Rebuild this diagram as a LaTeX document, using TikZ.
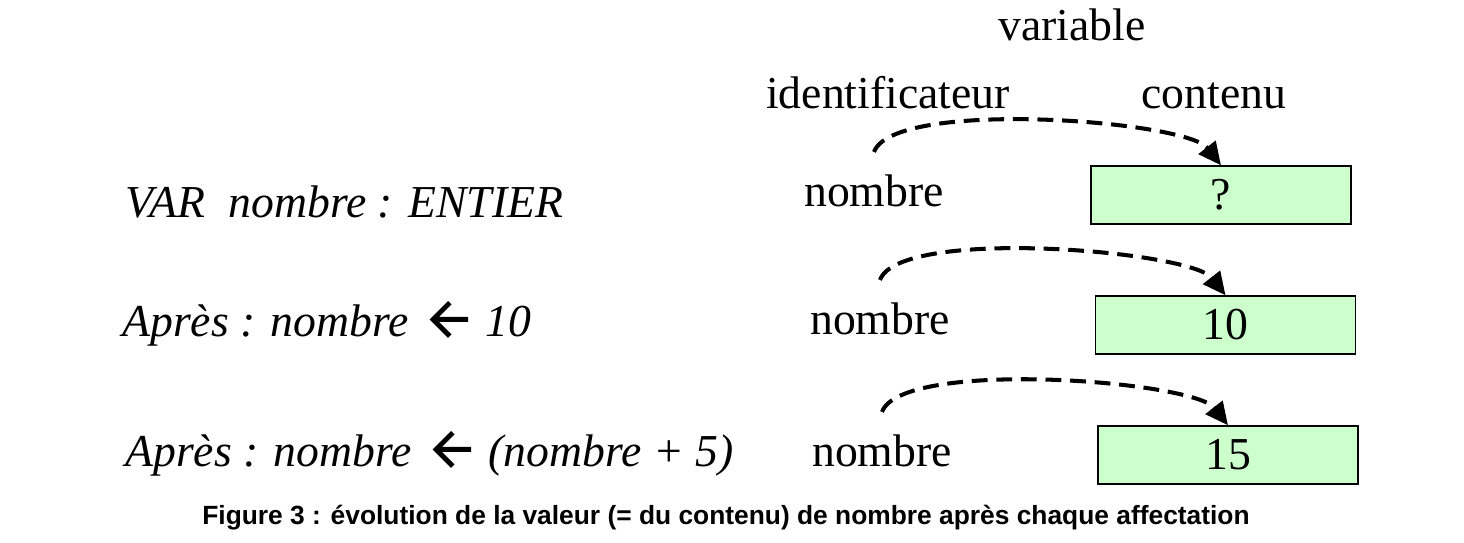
\documentclass[tikz,border=0pt]{standalone}
\usepackage{fontspec}
\setmainfont{Liberation Serif}
\newfontfamily\legendefont{Liberation Sans}
\usetikzlibrary{arrows.meta}
\definecolor{vertclair}{HTML}{CCFFCC}
% fleche d'affectation
\newcommand{\affecte}{\hspace{6pt}\tikz[baseline=0pt,x=1pt,y=1pt]
  \draw[line width=2.8pt,line join=miter] (11,19.5) -- (1.5,10) -- (11,0.5) (1.5,10) -- (21.5,10);\hspace{2pt}}

\begin{document}
\begin{tikzpicture}[x=0.02cm,y=-0.02cm,>={Triangle[length=13pt,width=12pt]},
        every node/.style={font=\fontsize{26}{30}\selectfont,inner sep=0pt},
        instr/.style={anchor=base west,font=\fontsize{26}{30}\selectfont\itshape},
        ident/.style={anchor=base},
        valeur/.style={draw,line width=0.8pt,fill=vertclair,minimum width=5.2cm,minimum height=1.16cm},
        lien/.style={->,dash pattern=on 9pt off 5pt,line width=2.3pt,out=70,in=128,looseness=0.42}]

  \useasboundingbox (0,0) rectangle (1464,543);

  % en-tete
  \node[ident] (Variable) at (1072,41) {variable};
  \node[ident] (Identificateur) at (888,109) {identificateur};
  \node[ident] (Contenu) at (1214,109) {contenu};

  % instructions
  \node[instr] (Declaration) at (125,218) {VAR\ \ nombre : ENTIER};
  \node[instr] (Affect1) at (122,337) {Après : nombre \affecte\ 10};
  \node[instr] (Affect2) at (125,467) {Après : nombre \affecte\ (nombre + 5)};

  % identificateurs et contenus
  \node[ident] (Nombre1) at (874,207) {nombre};
  \node[ident] (Nombre2) at (880,335) {nombre};
  \node[ident] (Nombre3) at (882,467) {nombre};
  \node[valeur] (Valeur1) at (1221,195) {?};
  \node[valeur] (Valeur2) at (1225.5,325) {10};
  \node[valeur] (Valeur3) at (1228,455) {15};

  \path ([yshift=0.46cm]Nombre1.north) edge [lien] (Valeur1.north)
        ([yshift=0.46cm]Nombre2.north) edge [lien] (Valeur2.north)
        ([yshift=0.46cm]Nombre3.north) edge [lien] (Valeur3.north);

  \node[anchor=base,font=\legendefont\bfseries\fontsize{15}{18}\selectfont] (Legende) at (726,525)
    {Figure 3 : évolution de la valeur (= du contenu) de nombre après chaque affectation};

\end{tikzpicture}
\end{document}
